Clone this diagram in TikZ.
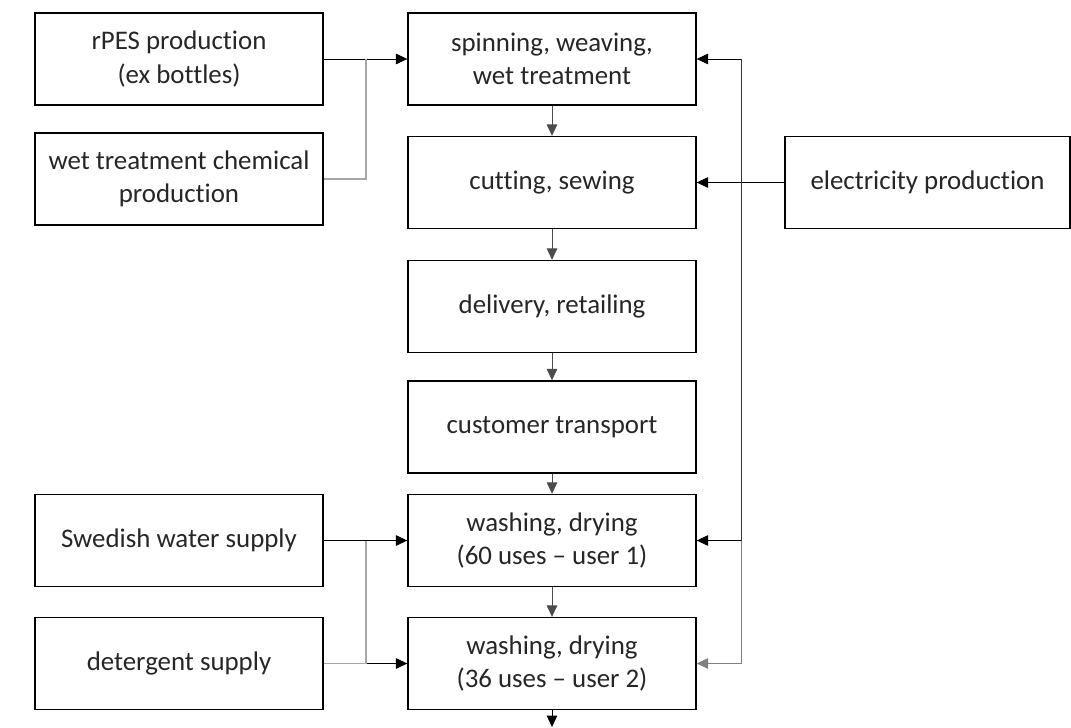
\documentclass[tikz,border=0pt]{standalone}
\usepackage{fontspec}
\setmainfont[Ligatures=NoCommon]{Carlito}
\usetikzlibrary{arrows.meta}

\begin{document}
\begin{tikzpicture}[x=0.02cm, y=-0.02cm,
    box/.style    = {draw, line width=0.8pt, minimum width=5.76cm, minimum height=1.84cm,
                     align=center, font=\fontsize{15.3}{19}\selectfont, text=black!85},
    flow/.style   = {-{Triangle[length=6.5pt,width=6pt]}, line width=0.5pt},
    feed/.style   = {gray!70, line width=0.9pt}]
    \useasboundingbox (0,0) rectangle (1071,727);

    % main chain
    \node[box] (spin)  at (552,59)    {spinning, weaving,\\wet treatment};
    \node[box] (cut)   at (552,182.5) {cutting, sewing};
    \node[box] (deliv) at (552,306.5) {delivery, retailing};
    \node[box] (cust)  at (552,427)   {customer transport};
    \node[box] (wash1) at (552,540.5) {washing, drying\\(60 uses -- user 1)};
    \node[box] (wash2) at (552,663.5) {washing, drying\\(36 uses -- user 2)};
    \coordinate (out)  at (552,727);

    % suppliers
    \node[box] (rpes)  at (179,59)    {rPES production\\(ex bottles)};
    \node[box] (chem)  at (179,179)   {wet treatment chemical\\production};
    \node[box] (water) at (179,540.5) {Swedish water supply};
    \node[box] (deter) at (179,663.5) {detergent supply};
    \node[box, minimum width=5.7cm] (elec) at (927.5,182.5) {electricity production};

    \coordinate (jl1) at (366,59);
    \coordinate (jl2) at (366,540.5);
    \coordinate (jl3) at (366,663.5);
    \coordinate (jr1) at (741,59);
    \coordinate (jr2) at (741,182.5);
    \coordinate (jr3) at (741,540.5);
    \coordinate (jr4) at (741,663.5);

    \draw[flow, black!70]  (spin) -- (cut);
    \draw[flow, black!70]  (cut) -- (deliv);
    \draw[flow, black!70]  (deliv) -- (cust);
    \draw[flow, black!70]  (cust) -- (wash1);
    \draw[flow, black!70]  (wash1) -- (wash2);
    \draw[flow]            (wash2) -- (out);

    \draw[flow]            (rpes) -- (spin);
    \draw[feed]            (chem.east) -| (jl1);
    \draw[flow]            (water) -- (wash1);
    \draw[feed]            (deter.east) -- (jl3);
    \draw[flow]            (jl3) -- (wash2.west);
    \draw[feed]            (jl2) -- (jl3);

    \draw[flow]            (elec) -- (cut);
    \draw[line width=0.5pt, black!80] (jr1) -- (jr3);
    \draw[line width=0.5pt, gray]     (jr3) -- (jr4);
    \draw[flow]            (jr1) -- (spin.east);
    \draw[flow]            (jr3) -- (wash1.east);
    \draw[flow, gray]      (jr4) -- (wash2.east);
\end{tikzpicture}
\end{document}
